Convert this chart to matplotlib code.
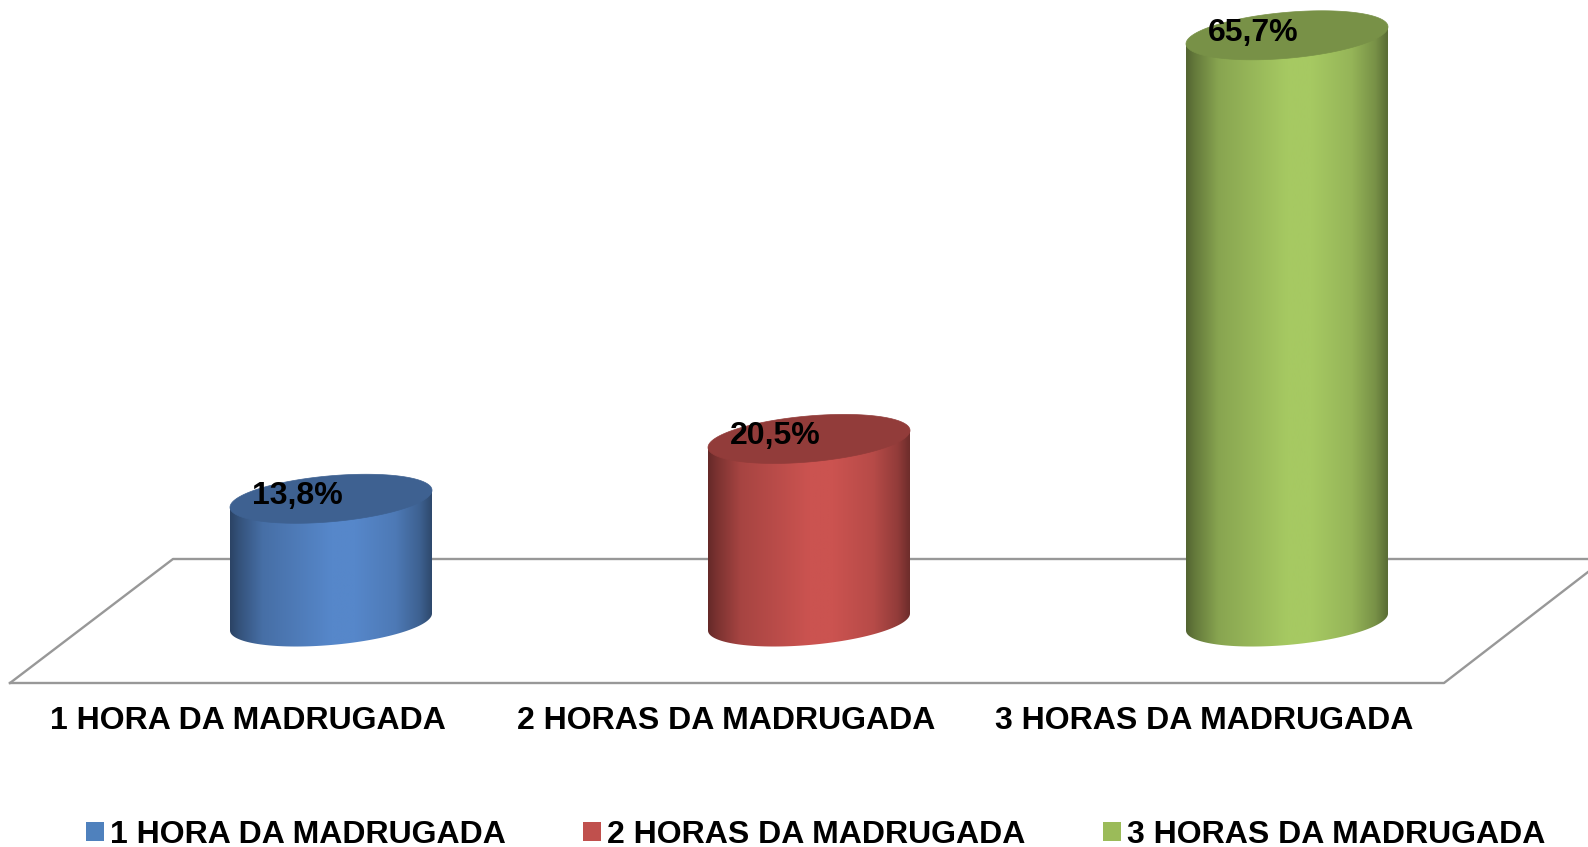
import numpy as np
import matplotlib
matplotlib.use("Agg")
import matplotlib.pyplot as plt
from matplotlib.lines import Line2D
from matplotlib.patches import PathPatch, Patch
from matplotlib.path import Path

categories = ["1 HORA DA MADRUGADA", "2 HORAS DA MADRUGADA", "3 HORAS DA MADRUGADA"]
values = [13.8, 20.5, 65.7]
value_labels = ["13,8%", "20,5%", "65,7%"]
base_colors = [(86, 135, 202), (203, 83, 80), (166, 201, 98)]
legend_colors = ["#4F81BD", "#C0504D", "#9BBB59"]

W, H = 1588, 847
FLOOR_FRONT_PX = 683
ZERO_PX = 622          # pixel row of value 0
PX_PER_UNIT_Y = 8.93
PX_PER_CAT = 478
FIRST_CAT_PX = 331
A_PX, B_PX, S_PX = 101, 23, 8.5

plt.rcParams["font.family"] = ["Liberation Sans", "DejaVu Sans"]
plt.rcParams["font.weight"] = "bold"
FS = 23

fig = plt.figure(figsize=(W / 100, H / 100), dpi=100, facecolor="white")
ax = fig.add_axes([0, 1 - FLOOR_FRONT_PX / H, 1, FLOOR_FRONT_PX / H])
ax.set_facecolor("none")
for sp in ax.spines.values():
    sp.set_visible(False)

xlim = (-FIRST_CAT_PX / PX_PER_CAT, (W - FIRST_CAT_PX) / PX_PER_CAT)
ylim = ((ZERO_PX - FLOOR_FRONT_PX) / PX_PER_UNIT_Y, ZERO_PX / PX_PER_UNIT_Y)

# floor frame
def px(x, y):
    return x / W, 1 - y / H

for seg in ([(10, 683), (173, 559), (1588, 559)],
            [(10, 683), (1444, 683), (1588, 572)]):
    xs, ys = zip(*[px(*p) for p in seg])
    fig.add_artist(Line2D(xs, ys, color="#989898", lw=1.7, transform=fig.transFigure, zorder=0))

a = A_PX / PX_PER_CAT
b = B_PX / PX_PER_UNIT_Y
s = S_PX / PX_PER_UNIT_Y

stops = [0, .04, .16, .5, .62, .82, .94, 1]
shade = [.50, .60, .82, 1, 1, .90, .72, .54]
u = np.linspace(0, 1, 256)
prof = np.interp(u, stops, shade)


def ellipse(cx, cy, t):
    return np.column_stack([cx + a * np.cos(t), cy + s * np.cos(t) + b * np.sin(t)])


for i, (v, col) in enumerate(zip(values, base_colors)):
    c = np.array(col) / 255
    img = (prof[:, None] * c)[None, :, :]
    lower = ellipse(i, 0, np.linspace(0, -np.pi, 80))
    verts = np.vstack([[(i - a, v - s)], [(i + a, v + s)], lower, [(i - a, v - s)]])
    im = ax.imshow(img, extent=[i - a, i + a, -b - s, v + s], aspect="auto",
                   interpolation="bilinear", zorder=2, clip_on=True)
    im.set_clip_path(PathPatch(Path(verts), transform=ax.transData))
    top = ellipse(i, v, np.linspace(0, 2 * np.pi, 160))
    top_col = np.clip(c * 0.72, 0, 1)
    ax.fill(top[:, 0], top[:, 1], color=top_col, lw=0.5, zorder=3, clip_on=False)
    ax.annotate(value_labels[i], xy=(i, v), xytext=(-34 * 0.72, -5.5 * 0.72),
                textcoords="offset points", ha="center", va="baseline",
                fontsize=FS, fontweight="bold", color="black", zorder=5,
                annotation_clip=False)

ax.set_xlim(xlim)
ax.set_ylim(ylim)
ax.set_yticks([])
ax.set_xticks(np.arange(len(categories)) - 83 / PX_PER_CAT)
ax.set_xticklabels(categories, fontsize=FS, fontweight="bold", color="black")
ax.tick_params(axis="x", length=0, pad=16.5)

handles = [Patch(facecolor=c, edgecolor="none") for c in legend_colors]
fig.legend(handles, categories, ncols=3, loc="lower left",
           bbox_to_anchor=(86 / W, -3 / H), frameon=False, fontsize=FS,
           borderpad=0, borderaxespad=0, handlelength=0.55, handleheight=0.53,
           handletextpad=0.19, columnspacing=2.44)

fig.savefig("out.png", dpi=100, facecolor="white")
